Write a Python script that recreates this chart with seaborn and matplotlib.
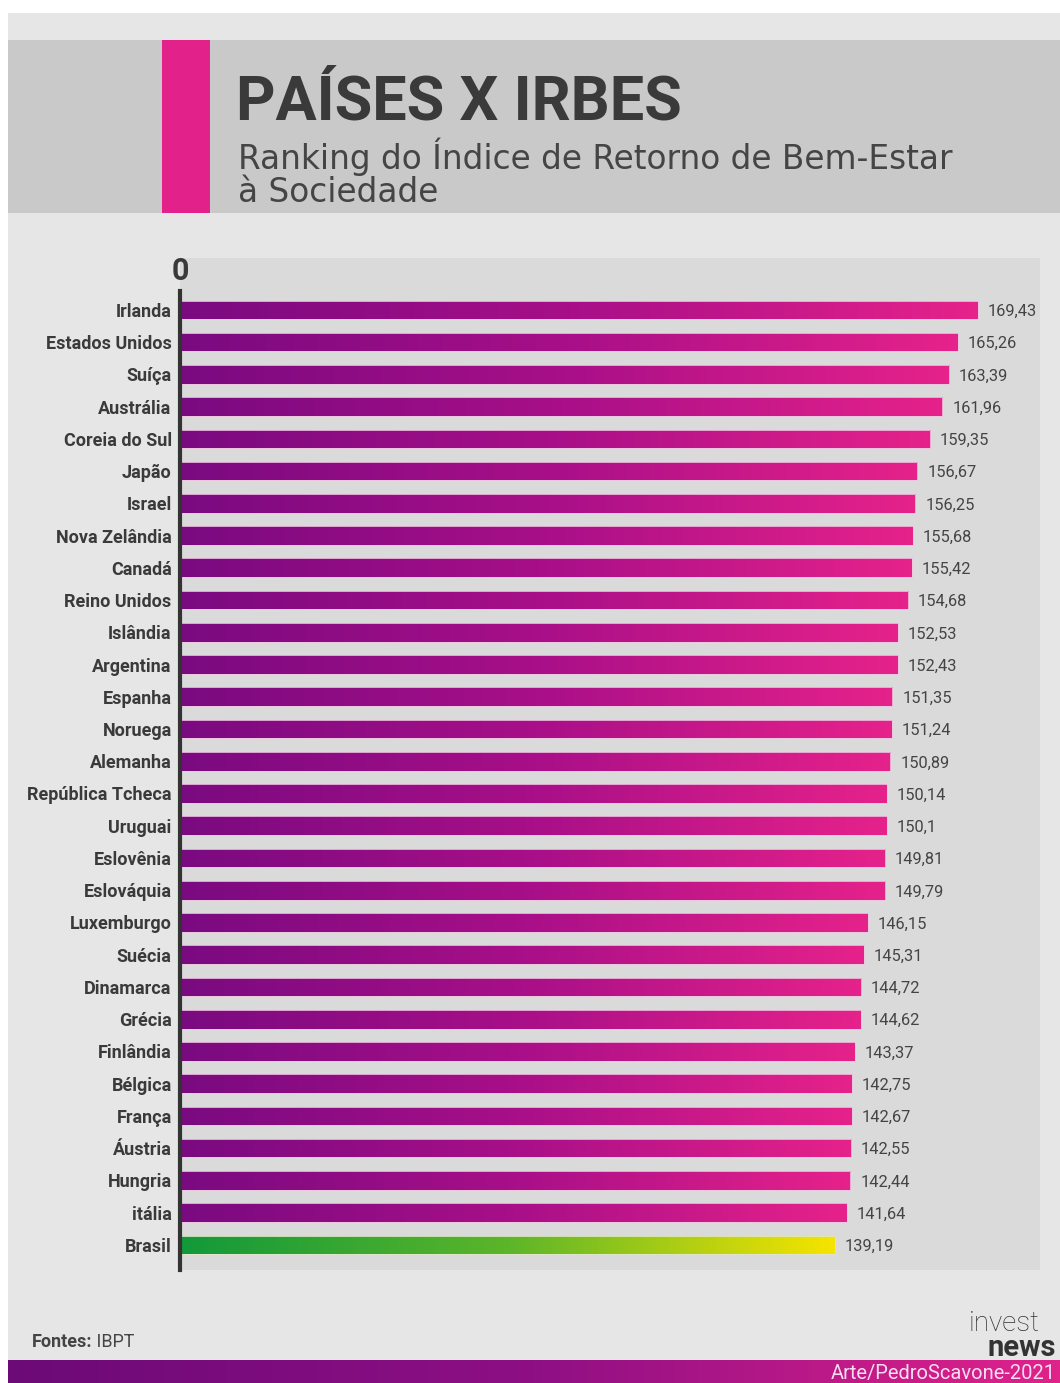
import numpy as np
import pandas as pd
import matplotlib
matplotlib.use("Agg")
import matplotlib.pyplot as plt
from matplotlib.colors import LinearSegmentedColormap
from matplotlib.patches import Rectangle
import seaborn as sns

# IRBES ranking (Índice de Retorno de Bem-Estar à Sociedade)
paises = [
    "Irlanda", "Estados Unidos", "Suíça", "Austrália", "Coreia do Sul",
    "Japão", "Israel", "Nova Zelândia", "Canadá", "Reino Unidos",
    "Islândia", "Argentina", "Espanha", "Noruega", "Alemanha",
    "República Tcheca", "Uruguai", "Eslovênia", "Eslováquia", "Luxemburgo",
    "Suécia", "Dinamarca", "Grécia", "Finlândia", "Bélgica",
    "França", "Áustria", "Hungria", "itália", "Brasil",
]
irbes = [
    169.43, 165.26, 163.39, 161.96, 159.35,
    156.67, 156.25, 155.68, 155.42, 154.68,
    152.53, 152.43, 151.35, 151.24, 150.89,
    150.14, 150.1, 149.81, 149.79, 146.15,
    145.31, 144.72, 144.62, 143.37, 142.75,
    142.67, 142.55, 142.44, 141.64, 139.19,
]
destaque = "Brasil"

titulo = "PAÍSES X IRBES"
subtitulo = ["Ranking do Índice de Retorno de Bem-Estar", "à Sociedade"]
fonte_txt = ("Fontes:", " IBPT")
credito = "Arte/PedroScavone-2021"

W, H = 1060, 1383
DPI = 100

sns.set_theme(style="white")
plt.rcParams["font.family"] = ["Roboto", "DejaVu Sans"]

TXT = "#3a3a3a"
roxo_rosa = LinearSegmentedColormap.from_list("rr", ["#7a0a80", "#a80f88", "#e6228b"])
verde_amarelo = LinearSegmentedColormap.from_list("va", ["#12993a", "#5cb52a", "#f7e400"])


def fx(px):
    return px / W


def fy(py):
    return 1 - py / H


fig = plt.figure(figsize=(W / DPI, H / DPI), dpi=DPI, facecolor="white")

# page background and header band (kept beneath the axes)
fig.patches.append(Rectangle((fx(8), 0), fx(W - 8), fy(13), transform=fig.transFigure,
                             facecolor="#e6e6e6", edgecolor="none", zorder=-3))
fig.patches.append(Rectangle((fx(8), fy(213)), fx(W - 8), (213 - 40) / H, transform=fig.transFigure,
                             facecolor="#c9c9c9", edgecolor="none", zorder=-2))
fig.patches.append(Rectangle((fx(162), fy(213)), fx(48), (213 - 40) / H, transform=fig.transFigure,
                             facecolor="#e2218b", edgecolor="none", zorder=-1))

fig.text(fx(236), fy(120), titulo, fontsize=44, fontweight="bold", color=TXT,
         va="baseline", ha="left")
fig.text(fx(238), fy(138), "\n".join(subtitulo), fontsize=23.6, color="#454545",
         va="top", ha="left", linespacing=1.0,
         fontfamily=["DejaVu Sans"])

# bar chart
ax_l, ax_r, ax_t, ax_b = 180, 1040, 258, 1270
ax = fig.add_axes([fx(ax_l), fy(ax_b), (ax_r - ax_l) / W, (ax_b - ax_t) / H])
ax.set_facecolor("#dadada")

df = pd.DataFrame({"pais": paises, "irbes": irbes})
sns.barplot(data=df, x="irbes", y="pais", orient="h", ax=ax, width=0.58,
            color="#a80f88", saturation=1, errorbar=None)

# gradient fill for every bar, clipped to the bar's own rectangle
for patch, nome in zip(ax.patches, paises):
    x0, y0 = patch.get_x(), patch.get_y()
    w, h = patch.get_width(), patch.get_height()
    cmap = verde_amarelo if nome == destaque else roxo_rosa
    grad = np.linspace(0, 1, 256).reshape(1, -1)
    img = ax.imshow(grad, extent=(x0, x0 + w, y0 + h + 0.05, y0 - 0.05), aspect="auto",
                    cmap=cmap, zorder=2, interpolation="bilinear")
    img.set_clip_path(patch)
    patch.set_facecolor("none")
    patch.set_edgecolor("#efc3e1" if nome != destaque else "#dfe8c8")
    patch.set_linewidth(0.6)
    patch.set_zorder(3)

for i, v in enumerate(irbes):
    ax.text(v + 2.1, i + 0.05, f"{v:g}".replace(".", ","), va="center", ha="left",
            fontsize=11.8, color="#444444")

ax.set_xlim(0, 182.7)
ax.set_ylim(29.78, -1.61)
ax.set_xlabel("")
ax.set_ylabel("")

# zero marker above the value axis
ax.set_xticks([])
ax.text(0, -1.22, "0", ha="center", va="center", fontsize=22, fontweight="bold",
        color=TXT)
ax.tick_params(axis="y", length=0, pad=6)
for lbl in ax.get_yticklabels():
    lbl.set_fontweight("bold")
    lbl.set_fontsize(13)
    lbl.set_color(TXT)

for s in ["top", "right", "bottom"]:
    ax.spines[s].set_visible(False)
ax.spines["left"].set_color("#333333")
ax.spines["left"].set_linewidth(3)
ax.spines["left"].set_bounds(-0.6, 29.78)
ax.spines["left"].set_zorder(5)

# footer
t1 = fig.text(fx(32), fy(1342), fonte_txt[0], fontsize=13, fontweight="bold",
              color="#444444", va="center", ha="left")
fig.canvas.draw()
bb = t1.get_window_extent()
fig.text(bb.x1 / W, fy(1342), fonte_txt[1], fontsize=13, color="#444444",
         va="center", ha="left")

fig.text(fx(1040), fy(1331), "invest", fontsize=20, color="#333333", ha="right",
         va="baseline", fontweight="light")
fig.text(fx(1056), fy(1356), "news", fontsize=21, color="#333333", ha="right",
         va="baseline", fontweight="bold")

# bottom gradient band
band = fig.add_axes([fx(8), 0, fx(W - 8), (H - 1360) / H])
band.imshow(np.linspace(0, 1, 256).reshape(1, -1), aspect="auto",
            cmap=LinearSegmentedColormap.from_list("band", ["#6c0a78", "#8e0f84", "#e0228b"]),
            extent=(0, 1, 0, 1))
band.set_xlim(0, 1)
band.set_ylim(0, 1)
band.axis("off")
band.text(0.996, 0.42, credito, transform=band.transAxes, ha="right", va="center",
          fontsize=14.5, color="#f6dcef")

fig.savefig("out.png", dpi=DPI, facecolor=fig.get_facecolor())
